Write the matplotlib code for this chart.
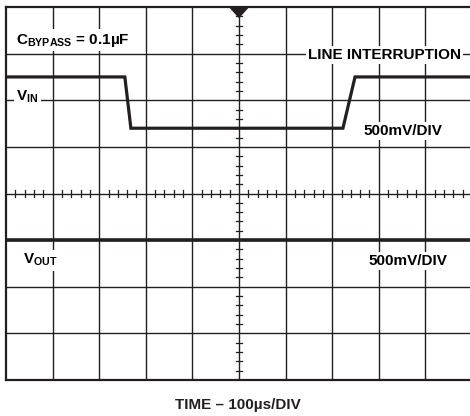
import matplotlib
matplotlib.use("Agg")
import matplotlib.pyplot as plt
from matplotlib.patches import Polygon

plt.rcParams['font.family'] = ['Liberation Sans', 'DejaVu Sans']
plt.rcParams['font.weight'] = 'bold'
plt.rcParams['mathtext.fontset'] = 'custom'
plt.rcParams['mathtext.rm'] = 'Liberation Sans:bold'
plt.rcParams['mathtext.bf'] = 'Liberation Sans:bold'
plt.rcParams['mathtext.it'] = 'Liberation Sans:bold'

INK = '#231f20'

# traces, in divisions (x: 0..10, y: 0..8 from bottom)
vin_t = [0, 2.55, 2.68, 7.23, 7.49, 10]
vin_v = [6.5, 6.5, 5.4, 5.4, 6.5, 6.5]
vout_t = [0, 10]
vout_v = [3.0, 3.0]

n_xdiv = 10
n_ydiv = 8

fig = plt.figure(figsize=(4.7, 4.16), dpi=100)
# right edge of the screen runs just past the picture
ax = fig.add_axes([6 / 470, 36 / 416, 466 / 470, 373 / 416])
ax.set_xlim(0, n_xdiv)
ax.set_ylim(0, n_ydiv)
ax.set_xticks([])
ax.set_yticks([])
for s in ax.spines.values():
    s.set_linewidth(1.6)
    s.set_color(INK)

# graticule
for i in range(1, n_xdiv):
    ax.axvline(i, color=INK, lw=1.0, zorder=1)
for j in range(1, n_ydiv):
    ax.axhline(j, color=INK, lw=1.0, zorder=1)

# minor ticks on the centre lines
tk = 0.065
for k in range(1, n_xdiv * 5):
    if k % 5:
        x = k / 5
        ax.plot([x, x], [4 - tk, 4 + tk], color=INK, lw=0.9, zorder=1)
for k in range(1, n_ydiv * 5):
    if k % 5:
        y = k / 5
        ax.plot([5 - tk, 5 + tk], [y, y], color=INK, lw=0.9, zorder=1)

# trigger marker
ax.add_patch(Polygon([(4.8, 8), (5.2, 8), (5.0, 7.78)], closed=True,
                     color=INK, zorder=4, clip_on=False))

# traces
ax.plot(vin_t, vin_v, color=INK, lw=2.3, zorder=3, solid_joinstyle='miter')
ax.plot(vout_t, vout_v, color=INK, lw=2.6, zorder=3)

box = dict(facecolor='white', edgecolor='none', pad=1.5)
fs = 11
ax.text(0.22, 7.29, r'C$_{\mathrm{BYPASS}}$ = 0.1µF', fontsize=fs,
        ha='left', va='center', bbox=box, zorder=5)
ax.text(0.22, 6.07, r'V$_{\mathrm{IN}}$', fontsize=fs,
        ha='left', va='center', bbox=box, zorder=5)
ax.text(8.12, 6.97, 'LINE INTERRUPTION', fontsize=fs,
        ha='center', va='center', bbox=box, zorder=5)
ax.text(8.52, 5.34, '500mV/DIV', fontsize=fs,
        ha='center', va='center', bbox=box, zorder=5)
ax.text(0.37, 2.57, r'V$_{\mathrm{OUT}}$', fontsize=fs,
        ha='left', va='center', bbox=box, zorder=5)
ax.text(8.63, 2.55, '500mV/DIV', fontsize=fs,
        ha='center', va='center', bbox=box, zorder=5)

fig.text(238 / 470, 1 - 405 / 416, 'TIME – 100µs/DIV', fontsize=fs,
         ha='center', va='center', color=INK)

fig.savefig('out.png', dpi=100, facecolor='white')
